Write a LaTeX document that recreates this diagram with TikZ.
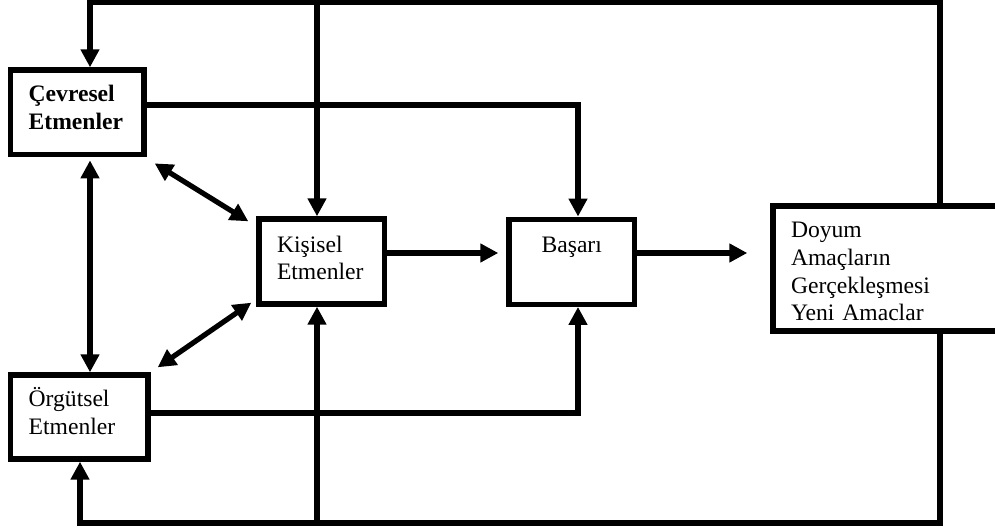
\documentclass[tikz,border=0pt]{standalone}
\usepackage{fontspec}
\setmainfont{Liberation Serif}
\usepackage{tikz}
\usetikzlibrary{arrows.meta,calc}
\tikzset{>={Triangle[length=9pt,width=9pt]}}
\tikzset{kutu/.style={draw,line width=2.7pt,align=left,inner xsep=9pt,inner ysep=0pt,font=\fontsize{11.8}{13.8}\selectfont},
	hat/.style={line width=2.6pt}}

\begin{document}
\begin{tikzpicture}[x=0.5pt,y=-0.5pt]
            \useasboundingbox (0,0) rectangle (995,529);
            \clip (0,0) rectangle (995,529);
            \node[kutu,text width=48.65pt,text height=16pt,text depth=26.35pt] (C) at (77.35,112.35) {\textbf{Çevresel}\\\textbf{Etmenler}};
            \node[kutu,text width=50.65pt,text height=15.85pt,text depth=26.15pt] (O) at (79.35,417) {Örgütsel\\Etmenler};
            \node[kutu,text width=44.75pt,text height=16.5pt,text depth=26pt] (K) at (321.75,261.5) {Kişisel\\Etmenler};
            \node[kutu,align=center,text width=44.75pt,text height=16.5pt,text depth=26pt] (B) at (571.75,261.75) {Başarı};
            \node[kutu,text width=125.5pt,text height=16pt,text depth=46.5pt] (D) at (916.5,268.5) {Doyum\\Amaçların\\Gerçekleşmesi\\Yeni Amaclar};
            \coordinate (tl) at (90,2.5);
            \coordinate (tk) at (317,2.5);
            \coordinate (tr) at (940,2.5);
            \coordinate (bl) at (80,523);
            \coordinate (bk) at (317,523);
            \coordinate (br) at (940,523);
            \coordinate (c1) at (578,105);
            \coordinate (o1) at (578,413);
            \coordinate (m) at (450,253);
            \draw[hat,->] (D.north -| tr) -- (tr) -- (tl) -- (C.north -| tl);
            \draw[hat,->] (tk) -- (K.north -| tk);
            \draw[hat,->] (D.south -| br) -- (br) -- (bl) -- (O.south -| bl);
            \draw[hat,->] (bk) -- (K.south -| bk);
            \draw[hat,->] (C.east |- c1) -| (B.north -| c1);
            \draw[hat,->] (O.east |- o1) -| (B.south -| o1);
            \draw[hat,->,shorten >=4pt] (K.east |- m) -- (B.west |- m);
            \draw[hat,->,shorten >=11.5pt] (B.east |- m) -- (D.west |- m);
            \draw[hat,<->,shorten <=1.5pt] (C.south -| tl) -- (O.north -| tl);
            \draw[hat,<->] ($(C.south east)+(8,6)$) -- ($(K.north west)+(-8,5)$);
            \draw[hat,<->] ($(O.north east)+(7,-5)$) -- ($(K.south west)+(-5,-4)$);
        \end{tikzpicture}
\end{document}
